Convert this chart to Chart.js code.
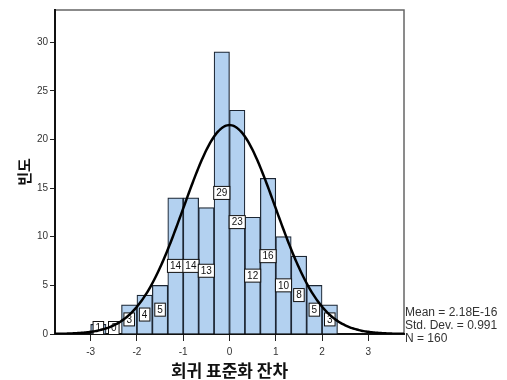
<!DOCTYPE html>
<html lang="ko">
<head>
  <meta charset="UTF-8" />
  <title>회귀 표준화 잔차</title>
  <script src="https://cdn.jsdelivr.net/npm/chart.js"></script>
  <style>
    body { margin: 0; background: #fff; }
  </style>
</head>
<body>
  <canvas id="grafico" width="507" height="380"></canvas>

  <script>
    // 구간 중심 (폭 1/3)
    const binCenters = [-2.8333, -2.5, -2.1667, -1.8333, -1.5, -1.1667, -0.8333, -0.5, -0.1667,
                        0.1667, 0.5, 0.8333, 1.1667, 1.5, 1.8333, 2.1667];
    const counts = [1, 0, 3, 4, 5, 14, 14, 13, 29, 23, 12, 16, 10, 8, 5, 3];
    const binWidth = 1 / 3;
    const xTicks = [-3, -2, -1, 0, 1, 2, 3];
    const yTicks = [0, 5, 10, 15, 20, 25, 30];
    const statMean = 2.18e-16;
    const statSd = 0.991;
    const statN = 160;
    const statLines = ["Mean = 2.18E-16", "Std. Dev. = 0.991", "N = 160"];

    // 정규곡선 (평균, 표준편차, N 으로부터)
    const curve = [];
    for (let x = -3.8; x <= 3.8001; x += 0.05) {
      const z = (x - statMean) / statSd;
      curve.push({ x: x, y: statN * binWidth / (statSd * Math.sqrt(2 * Math.PI)) * Math.exp(-z * z / 2) });
    }

    const tickFont = { family: "'Liberation Sans', Arial", size: 10 };

    const frame = {
      id: "frame",
      beforeDraw(chart) {
        const { ctx, chartArea: a } = chart;
        ctx.save();
        ctx.strokeStyle = "#666";
        ctx.lineWidth = 1.5;
        ctx.strokeRect(a.left, a.top, a.right - a.left, a.bottom - a.top);
        ctx.restore();
      },
      afterDatasetDraw(chart, args) {
        if (args.index !== 0) return;
        const { ctx, scales, chartArea: a } = chart;
        ctx.save();
        ctx.font = "10px 'Liberation Sans', Arial";
        ctx.textAlign = "center";
        ctx.textBaseline = "middle";
        counts.forEach((c, i) => {
          const px = scales.x.getPixelForValue(binCenters[i]);
          let py = scales.y.getPixelForValue(c / 2);
          if (py > a.bottom - 6) py = a.bottom - 6;
          const t = String(c);
          const w = ctx.measureText(t).width + 5;
          const h = 13;
          ctx.fillStyle = "#fff";
          ctx.fillRect(px - w / 2, py - h / 2, w, h);
          ctx.strokeStyle = "#111";
          ctx.lineWidth = 1;
          ctx.strokeRect(px - w / 2, py - h / 2, w, h);
          ctx.fillStyle = "#111";
          ctx.fillText(t, px, py + 0.5);
        });
        ctx.restore();
      },
      afterDraw(chart) {
        const { ctx, chartArea: a } = chart;
        ctx.save();
        ctx.font = "12px 'Liberation Sans', Arial";
        ctx.fillStyle = "#333";
        ctx.textAlign = "left";
        ctx.textBaseline = "middle";
        statLines.forEach((s, i) => ctx.fillText(s, a.right + 1, 313 + i * 13));
        ctx.restore();
      }
    };

    new Chart(document.getElementById("grafico"), {
      type: "bar",
      data: {
        datasets: [{
          type: "bar",
          data: binCenters.map((x, i) => ({ x: x, y: counts[i] })),
          backgroundColor: "#b3d1f0",
          borderColor: "#1c2633",
          borderWidth: 1.2,
          barPercentage: 1,
          categoryPercentage: 1,
          order: 1
        }, {
          type: "line",
          data: curve,
          borderColor: "#000",
          borderWidth: 2.5,
          pointRadius: 0,
          tension: 0.3,
          fill: false,
          order: 0
        }]
      },
      options: {
        responsive: false,
        animation: false,
        devicePixelRatio: 1,
        layout: { padding: { left: 0, right: 103, top: 10, bottom: 0 } },
        plugins: { legend: { display: false }, tooltip: { enabled: false } },
        scales: {
          x: {
            type: "linear",
            min: -3.77,
            max: 3.77,
            offset: false,
            afterFit: s => { s.height = 46; },
            afterBuildTicks: s => { s.ticks = xTicks.map(v => ({ value: v })); },
            grid: { offset: false, drawOnChartArea: false, drawTicks: true, tickLength: 7, color: "#222" },
            border: { display: true, color: "#111", width: 2 },
            ticks: { font: tickFont, color: "#333", padding: 5, maxRotation: 0 },
            title: {
              display: true,
              text: "회귀 표준화 잔차",
              font: { family: "'Noto Sans CJK KR'", size: 17, weight: "bold" },
              color: "#111",
              padding: { top: 0, bottom: -1 }
            }
          },
          y: {
            min: 0,
            max: 33.3,
            afterFit: s => { s.width = 55; },
            afterBuildTicks: s => { s.ticks = yTicks.map(v => ({ value: v })); },
            grid: { drawOnChartArea: false, drawTicks: true, tickLength: 5, color: "#222" },
            border: { display: true, color: "#111", width: 2 },
            ticks: { font: tickFont, color: "#333", padding: 2 },
            title: {
              display: true,
              text: "빈도",
              font: { family: "'Noto Sans CJK KR'", size: 15, weight: "bold" },
              color: "#111",
              padding: { top: 15, bottom: 0 }
            }
          }
        }
      },
      plugins: [frame]
    });
  </script>
</body>
</html>
